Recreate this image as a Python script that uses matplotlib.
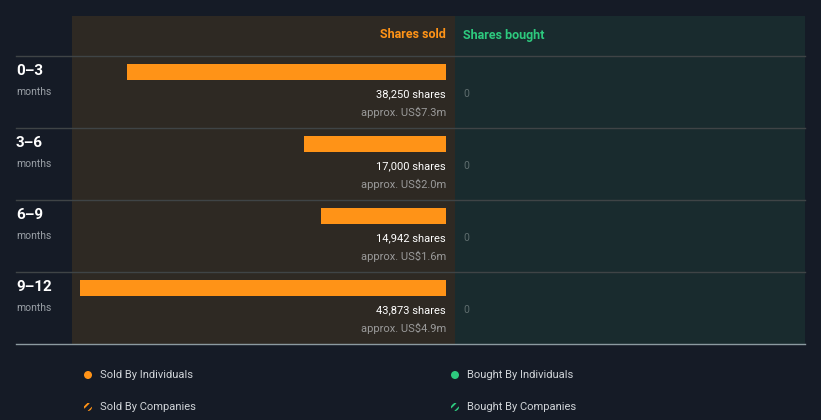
import matplotlib
matplotlib.use("Agg")
import matplotlib.pyplot as plt
from matplotlib.patches import Rectangle, Circle

plt.rcParams['font.family'] = ['Roboto', 'DejaVu Sans']
plt.rcParams['hatch.linewidth'] = 1.4

periods = ["0–3", "3–6", "6–9", "9–12"]
period_unit = "months"
shares_sold = [38250, 17000, 14942, 43873]
sold_labels = ["38,250 shares", "17,000 shares", "14,942 shares", "43,873 shares"]
value_labels = ["approx. US$7.3m", "approx. US$2.0m", "approx. US$1.6m", "approx. US$4.9m"]
shares_bought = [0, 0, 0, 0]
legend_labels = ["Sold By Individuals", "Bought By Individuals",
                 "Sold By Companies", "Bought By Companies"]

BG = "#151b26"
SOLD_BG = "#2e2923"
BOUGHT_BG = "#192b2e"
ORANGE = "#ff9317"
GREEN = "#2dc97e"
W, H = 821, 420

fig = plt.figure(figsize=(W / 100, H / 100), dpi=100, facecolor=BG)

# Background axes in pixel coordinates
bg = fig.add_axes([0, 0, 1, 1])
bg.set_xlim(0, W)
bg.set_ylim(H, 0)
bg.axis("off")
bg.set_facecolor(BG)

top, header_bottom, row_h = 16, 56, 72
n = len(periods)
bottom = header_bottom + n * row_h
bg.add_patch(Rectangle((72, top), 383, bottom - top, color=SOLD_BG, lw=0))
bg.add_patch(Rectangle((455, top), 350, bottom - top, color=BOUGHT_BG, lw=0))
for i in range(n):
    y = header_bottom + i * row_h
    bg.plot([16, 805], [y, y], color="#3f4446", lw=1)
bg.plot([16, 805], [bottom, bottom], color="#8c9aa0", lw=1)

bg.text(446, 35, "Shares sold", color=ORANGE, fontsize=9, fontweight="bold",
        ha="right", va="center")
bg.text(463, 35, "Shares bought", color=GREEN, fontsize=9, fontweight="bold",
        ha="left", va="center")

for i, p in enumerate(periods):
    y0 = header_bottom + i * row_h
    bg.text(16, y0 + 15, p, color="white", fontsize=11, fontweight="bold",
            ha="left", va="center")
    bg.text(16, y0 + 36, period_unit, color="#9aa0a6", fontsize=7.5,
            ha="left", va="center")

# Bar axes
x_left, x_right = 80, 446
ax = fig.add_axes([x_left / W, 1 - bottom / H, (x_right - x_left) / W, (bottom - header_bottom) / H])
ax.set_xlim(max(shares_sold), 0)
ax.set_ylim(n, 0)
ax.axis("off")
ax.patch.set_alpha(0)
bar_off = 8 / row_h
bar_h = 16 / row_h
ax.barh([i + bar_off for i in range(n)], shares_sold, height=bar_h, align="edge",
        color=ORANGE, lw=0)
for i in range(n):
    ax.text(0, i + 38 / row_h, sold_labels[i], color="white", fontsize=8,
            ha="right", va="center")
    ax.text(0, i + 56 / row_h, value_labels[i], color="#9a9a9a", fontsize=8,
            ha="right", va="center")

# Bought values
for i, v in enumerate(shares_bought):
    bg.text(463, header_bottom + i * row_h + 38, f"{v}", color="#5f6d6e", fontsize=7.5,
            ha="left", va="center")

# Legend
leg_pos = [(88, 375), (455, 375), (88, 407), (455, 407)]
leg_col = [ORANGE, GREEN, ORANGE, GREEN]
for k, (lab, (lx, ly), c) in enumerate(zip(legend_labels, leg_pos, leg_col)):
    if k < 2:
        bg.add_patch(Circle((lx, ly), 4, color=c, lw=0))
    else:
        bg.add_patch(Circle((lx, ly), 4, facecolor="none", edgecolor=c, hatch="////", lw=0))
    bg.text(lx + 12, ly, lab, color="#d0d4d8", fontsize=8, ha="left", va="center")

fig.savefig("out.png", dpi=100, facecolor=BG)
